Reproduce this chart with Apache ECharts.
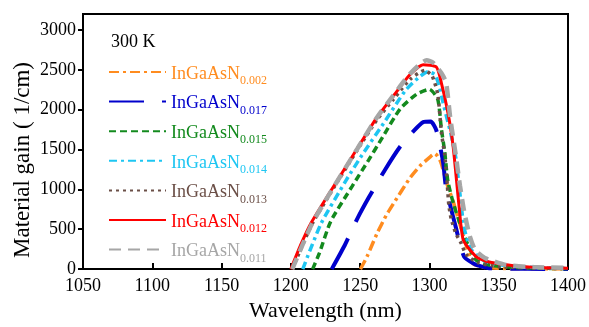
<!DOCTYPE html>
<html><head><meta charset="utf-8">
<script src="https://cdn.jsdelivr.net/npm/echarts@6/dist/echarts.min.js"></script>
<style>html,body{margin:0;padding:0;background:#fff}#c{width:589px;height:327px}</style>
</head><body><div id="c"></div>
<script>
const seriesNames = ['InGaAsN0.002','InGaAsN0.017','InGaAsN0.015','InGaAsN0.014','InGaAsN0.013','InGaAsN0.012','InGaAsN0.011'];
const subscripts = ['0.002','0.017','0.015','0.014','0.013','0.012','0.011'];
const colors = ['#FF8C1F','#0000CC','#138A1E','#1EC6F2','#6B4F47','#FF0000','#A6A6A6'];
const xTicks = [1050,1100,1150,1200,1250,1300,1350,1400];
const yTicks = [0,500,1000,1500,2000,2500,3000];

const wl_002 = [1250.2,1255,1262,1269,1274,1286,1293,1301,1304,1308,1313,1317,1320.5,1326,1331,1340,1360,1400];
const g_002  = [0,157,440,680,820,1144,1290,1415,1450,1350,1050,856,650,330,74,20,5,0];

const wl_017 = [1229.5,1238.3,1247.9,1256.2,1268,1278.8,1288,1295.5,1301,1305,1309.8,1312,1319,1325,1333,1343,1370,1400];
const g_017  = [0,280,630,897,1247,1535,1720,1843,1850,1740,1349,1021,527,157,60,12,3,0];

const wl_015 = [1215.7,1220.5,1228.8,1244.3,1256.2,1266,1278.8,1290.7,1300,1306,1308.6,1311,1313.3,1317.4,1320.5,1326.4,1333.6,1345,1370,1400];
const g_015  = [0,197,600,1041,1370,1650,2008,2194,2255,2132,1761,1473,1103,815,650,362,115,45,15,5];

const wl_014 = [1208.6,1221.7,1239.5,1251.4,1267,1282.4,1292,1299,1304,1307,1309.8,1312.5,1315.7,1319,1322,1325,1330,1340,1360,1400];
const g_014  = [0,568,1103,1432,1830,2235,2400,2475,2440,2300,2090,1900,1680,1400,950,520,250,100,35,10];

const wl_013 = [1201,1215,1229,1248,1262,1274,1286,1296.7,1302,1306,1308.6,1311,1312,1313.3,1314,1315.7,1319,1323,1326.4,1335,1350,1400];
const g_013  = [0,555,965,1495,1870,2130,2380,2494,2420,2194,1720,1432,1260,960,800,630,450,321,185,80,30,5];

const wl_012 = [1200,1207,1214.5,1229,1248,1262,1274,1286,1295.5,1305,1308.6,1313.3,1317,1321.7,1324.5,1333.6,1340.7,1362,1380,1400];
const g_012  = [0,300,575,985,1515,1900,2173,2440,2564,2535,2337,1966,1555,732,362,157,99,40,20,12];

const wl_011 = [1201,1215,1229,1248,1262,1274,1286,1298,1302.6,1308.6,1312,1315,1319,1322,1325,1329,1333,1340,1355,1375,1400];
const g_011  = [0,560,975,1510,1900,2180,2450,2620,2590,2460,2340,1900,1430,1050,730,420,240,140,53,25,15];

const wls = [wl_002,wl_017,wl_015,wl_014,wl_013,wl_012,wl_011];
const gains = [g_002,g_017,g_015,g_014,g_013,g_012,g_011];
const dashes = [[10,4,3,4],[35,18],[7,4],[8,4,3,4],[3,4],'solid',[12,7]];
const widths = [3.5,4,3.5,3.5,3.5,3,4.5];

const FONT = '"Liberation Serif", "Times New Roman", serif';
const rich = {};
colors.forEach((c,i)=>{
  rich['m'+i] = {color:c, fontSize:18, fontFamily:FONT, lineHeight:22, verticalAlign:'bottom'};
  rich['s'+i] = {color:c, fontSize:12, fontFamily:FONT, lineHeight:22, verticalAlign:'bottom', padding:[0,0,-4,0]};
});

const series = seriesNames.map((n,i)=>({
  name:n, type:'line', symbol:'none', smooth:0.2,
  data: wls[i].map((x,j)=>[x,gains[i][j]]),
  lineStyle:{color:colors[i], width:widths[i], type:dashes[i], cap:'butt'},
  itemStyle:{color:colors[i]},
  z: 2+i
}));

const chart = echarts.init(document.getElementById('c'), null, {renderer:'canvas'});
chart.setOption({
  animation:false,
  backgroundColor:'#fff',
  grid:{left:83, right:18, top:14, bottom:51, show:true, borderColor:'#000', borderWidth:2, backgroundColor:'transparent'},
  graphic:[
    {type:'text', left:111, top:33, style:{text:'300 K', fontSize:18, fontFamily:FONT, fill:'#000'}},
    {type:'text', x:23, y:160, rotation:Math.PI/2, style:{text:'Material gain ( 1/cm)', fontSize:23, fontFamily:FONT, fill:'#000', align:'center', verticalAlign:'middle'}}
  ],
  legend:{
    orient:'vertical', left:103, top:60, itemWidth:57, itemHeight:14, itemGap:7.6,
    data: seriesNames,
    itemStyle:{opacity:0},
    formatter: function(name){ const i = seriesNames.indexOf(name); return '{m'+i+'|InGaAsN}{s'+i+'|'+subscripts[i]+'}'; },
    textStyle:{rich:rich, fontFamily:FONT, fontSize:18}
  },
  xAxis:{
    type:'value', min:1050, max:1400, interval:50,
    name:'Wavelength (nm)', nameLocation:'middle', nameGap:25,
    nameTextStyle:{fontSize:22, fontFamily:FONT, color:'#000'},
    axisLine:{show:true, lineStyle:{color:'#000', width:2}},
    axisTick:{show:true, inside:true, length:6, lineStyle:{color:'#000', width:2}},
    axisLabel:{fontSize:18, fontFamily:FONT, color:'#000', margin:8, formatter:v=>xTicks.includes(v)?String(v):''},
    splitLine:{show:false}
  },
  yAxis:{
    type:'value', min:0, max:3200, interval:500,
    axisLine:{show:true, lineStyle:{color:'#000', width:2}},
    axisTick:{show:true, inside:false, length:5, lineStyle:{color:'#000', width:2}},
    axisLabel:{fontSize:18, fontFamily:FONT, color:'#000', margin:7, showMaxLabel:false, formatter:v=>yTicks.includes(v)?String(v):''},
    splitLine:{show:false}
  },
  series: series
});
</script></body></html>
